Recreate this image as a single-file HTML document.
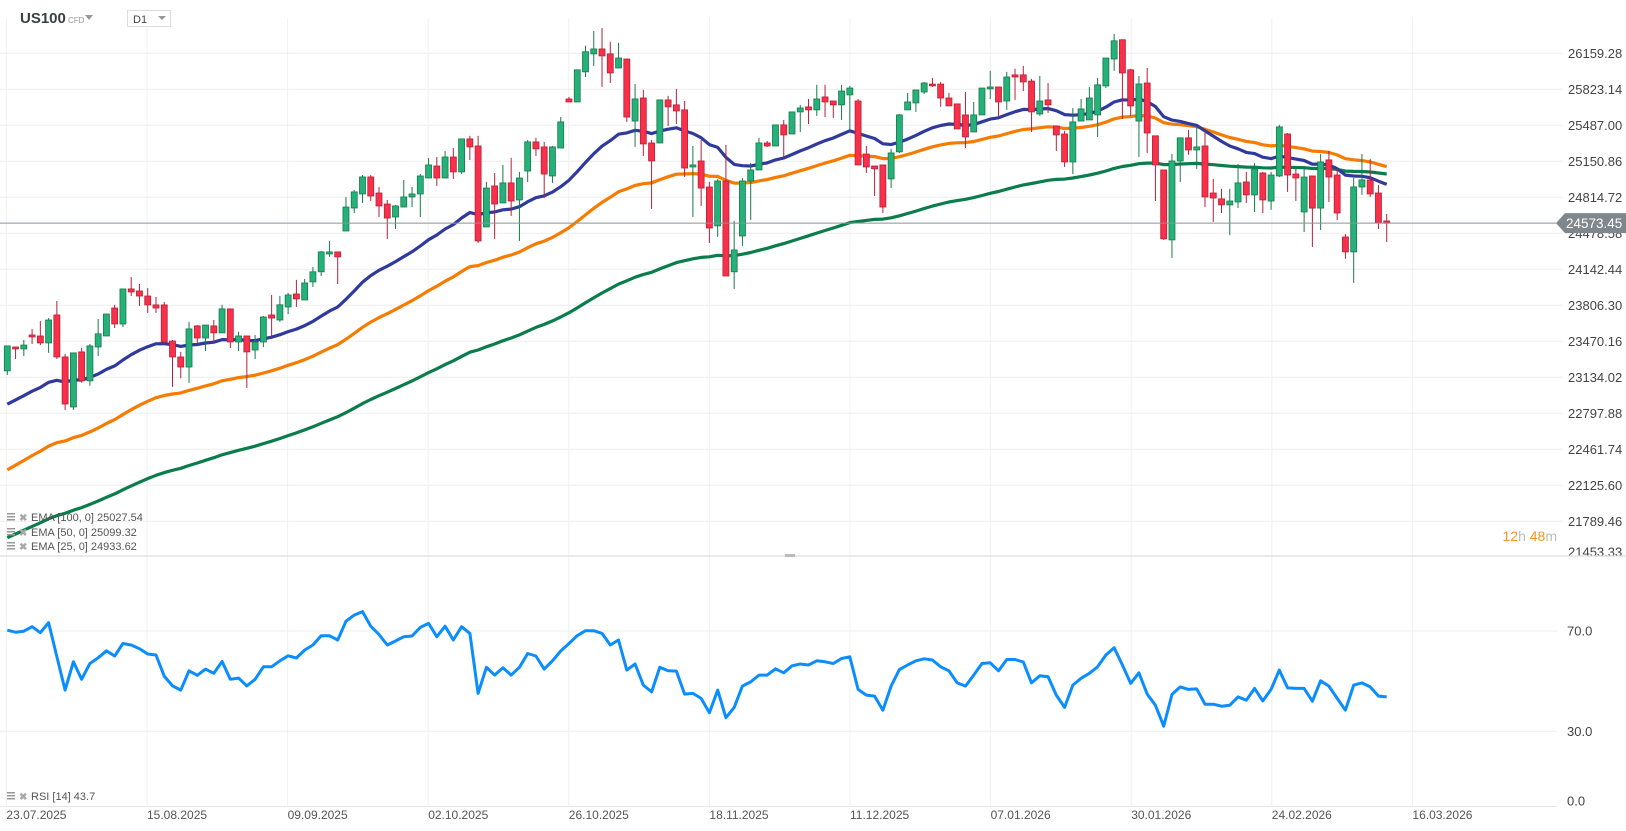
<!DOCTYPE html>
<html><head><meta charset="utf-8"><style>
html,body{margin:0;padding:0;background:#fff;}
svg{display:block;font-family:"Liberation Sans",Arial,sans-serif;}
</style></head><body>
<svg id="chart" width="1626" height="831" viewBox="0 0 1626 831" xmlns="http://www.w3.org/2000/svg">
<rect x="0" y="0" width="1626" height="831" fill="#fff"/>
<g id="grid"></g>
<g id="header">
  <text x="20" y="23" font-size="15" font-weight="bold" fill="#3a3f44">US100</text>
  <text x="68" y="23" font-size="8" fill="#999">CFD</text>
  <path d="M85 15 L93 15 L89 20 Z" fill="#999"/>
  <rect x="127.5" y="10.5" width="43" height="16" fill="#fff" stroke="#ddd"/>
  <text x="133" y="23" font-size="11" fill="#444">D1</text>
  <path d="M158 16 L166 16 L162 20 Z" fill="#999"/>
</g>
<g id="ema"></g>
<g id="candles"></g>
<g id="rsi"></g>
<g id="axes"></g>
<g id="legend">
  <g>
    <rect x="7" y="513" width="8" height="1.5" fill="#999"/><rect x="7" y="516" width="8" height="1.5" fill="#999"/><rect x="7" y="519" width="8" height="1.5" fill="#999"/>
    <text x="19" y="521" font-size="10" fill="#aaa" font-weight="bold">✖</text>
    <text x="31" y="521" font-size="11" fill="#555">EMA [100, 0] 25027.54</text></g>
  <g>
    <rect x="7" y="528" width="8" height="1.5" fill="#999"/><rect x="7" y="531" width="8" height="1.5" fill="#999"/><rect x="7" y="534" width="8" height="1.5" fill="#999"/>
    <text x="19" y="536" font-size="10" fill="#aaa" font-weight="bold">✖</text>
    <text x="31" y="536" font-size="11" fill="#555">EMA [50, 0] 25099.32</text></g>
  <g>
    <rect x="7" y="542" width="8" height="1.5" fill="#999"/><rect x="7" y="545" width="8" height="1.5" fill="#999"/><rect x="7" y="548" width="8" height="1.5" fill="#999"/>
    <text x="19" y="550" font-size="10" fill="#aaa" font-weight="bold">✖</text>
    <text x="31" y="550" font-size="11" fill="#555">EMA [25, 0] 24933.62</text></g>
  <g>
    <rect x="7" y="792" width="8" height="1.5" fill="#999"/><rect x="7" y="795" width="8" height="1.5" fill="#999"/><rect x="7" y="798" width="8" height="1.5" fill="#999"/>
    <text x="19" y="800" font-size="10" fill="#aaa" font-weight="bold">✖</text>
    <text x="31" y="800" font-size="11" fill="#555">RSI [14] 43.7</text></g>
  <text x="1557" y="541" font-size="14" text-anchor="end"><tspan fill="#f7931e">12</tspan><tspan fill="#bbb">h </tspan><tspan fill="#f7931e">48</tspan><tspan fill="#bbb">m</tspan></text>
</g>
</svg>
<script>
const priceTicks = [26159.28,25823.14,25487.00,25150.86,24814.72,24478.58,24142.44,23806.30,23470.16,23134.02,22797.88,22461.74,22125.60,21789.46,21453.33];
const rsiTicks = [70,30,0];
const dateLabels = ["23.07.2025","15.08.2025","09.09.2025","02.10.2025","26.10.2025","18.11.2025","11.12.2025","07.01.2026","30.01.2026","24.02.2026","16.03.2026"];
const lastPrice = 24573.45;
// OHLC per daily candle
const opens = [23194,23417,23399,23529,23520,23455,23716,23324,22857,23371,23101,23417,23520,23781,23632,23959,23940,23893,23810,23810,
23473,23324,23230,23614,23501,23614,23549,23773,23464,23520,23389,23464,23716,23669,23791,23912,23856,24025,24119,24286,
24305,24500,24715,24846,25005,24855,24752,24631,24724,24818,24846,24995,25107,24995,25191,25052,25360,25294,24538,24921,
24762,24949,24790,25060,25332,25285,25014,25275,25733,25705,25986,26154,26200,26154,26022,26106,25527,25742,25322,25322,
25724,25678,25631,25098,25154,24911,24548,24967,24119,24454,24967,25070,25322,25294,25491,25406,25612,25659,25631,25752,
25714,25678,25771,25714,25219,25107,25117,24986,25239,25631,25696,25798,25872,25872,25742,25687,25584,25425,25584,25827,
25845,25714,25958,25958,25900,25593,25724,25481,25406,25145,25527,25537,25584,25855,26106,26286,26005,25527,25882,25389,
25070,24417,25154,25370,25257,25294,24855,24800,24744,24771,24958,24837,25042,24780,25014,25406,25032,24678,25014,24714,
25164,25023,24444,24305,24911,24977,24855,24594];
const highs = [23427,23417,23483,23586,23660,23687,23847,23352,23362,23408,23445,23679,23725,23811,23959,24070,24005,23967,23884,23838,
23482,23371,23652,23622,23622,23669,23811,23773,23559,23520,23529,23707,23903,23894,23922,24044,24053,24166,24315,24408,
24305,24817,24883,25023,25023,24911,24790,24744,24977,24911,25032,25183,25191,25247,25275,25360,25389,25389,24958,25042,
25117,25183,25052,25350,25370,25332,25294,25565,25752,26005,26230,26368,26396,26267,26257,26106,25873,25817,25350,25724,
25762,25827,25714,25294,25350,24958,24986,25304,24594,24995,25136,25370,25341,25491,25537,25612,25678,25733,25865,25865,
25714,25865,25855,25733,25294,25107,25117,25267,25593,25789,25817,25892,25930,25892,25789,25687,25798,25705,25835,25995,
25845,25986,26014,26042,25920,25948,25882,25481,25434,25649,25733,25845,25930,26115,26341,26286,26014,25948,26022,25389,
25070,25219,25370,25444,25472,25434,24986,24893,24893,25126,25052,25136,25052,25052,25491,25415,25080,25080,25014,25219,
25247,25080,24472,24995,25219,25174,24931,24659];
const lows = [23156,23305,23333,23445,23435,23362,23305,22829,22829,23083,23055,23333,23520,23595,23604,23893,23800,23735,23735,23445,
23045,23126,23083,23455,23380,23455,23549,23408,23380,23035,23305,23417,23511,23652,23725,23791,23856,23977,24080,24258,
24005,24500,24668,24762,24780,24631,24426,24519,24724,24724,24631,24995,24921,24995,24986,25032,25163,24388,24538,24426,
24762,24641,24407,24958,25201,24808,24949,25275,25705,25705,25938,26042,25845,25882,26022,25519,25285,25201,24706,25322,
25481,25499,25004,24631,24734,24388,24444,24080,23959,24361,24603,25070,25285,25294,25191,25406,25425,25499,25575,25564,
25555,25537,25425,25117,25042,24827,24668,24901,25229,25631,25612,25779,25845,25659,25668,25453,25275,25425,25584,25733,
25564,25631,25724,25807,25425,25575,25602,25247,25098,25032,25527,25537,25378,25835,25995,25546,25575,25191,25229,24780,
24417,24248,24958,25211,25080,24724,24585,24668,24462,24714,24762,24678,24668,24698,25004,24865,24780,24491,24351,24509,
24771,24603,24240,24015,24837,24818,24519,24397];
const closes = [23427,23399,23435,23511,23455,23669,23324,22885,23362,23101,23427,23540,23725,23632,23959,23931,23893,23810,23781,23464,
23324,23230,23586,23501,23622,23549,23773,23464,23520,23371,23464,23697,23687,23811,23903,23866,24015,24119,24305,24305,
24258,24724,24865,25005,24827,24734,24621,24734,24818,24846,25014,25117,24995,25191,25052,25360,25285,24407,24901,24752,
24949,24780,24995,25332,25267,25032,25285,25519,25705,26005,26174,26200,26135,25976,26115,25564,25733,25313,25154,25724,
25659,25621,25088,25117,24901,24528,24967,24080,24323,24967,25070,25322,25294,25491,25397,25612,25649,25631,25733,25705,
25678,25807,25835,25117,25098,25080,24724,25229,25584,25705,25817,25882,25855,25742,25668,25453,25378,25584,25835,25845,
25705,25938,25938,25892,25612,25714,25678,25397,25145,25519,25640,25742,25865,26115,26276,25976,25668,25873,25415,25117,
24427,25154,25370,25257,25285,24818,24808,24744,24780,24949,24837,25080,24790,25023,25472,25023,24995,25004,24714,25145,
25004,24668,24305,24911,24977,24846,24575,24573];
const rsiValues = [70.3,69.5,69.9,71.7,69.3,73.3,59.7,46.4,57.7,50.7,57.0,59.3,62.1,60.0,65.0,64.4,62.9,60.8,60.4,52.0,
48.1,46.4,54.1,52.3,54.8,53.1,57.8,50.7,51.2,48.1,50.7,55.7,55.7,58.1,60.1,59.2,62.4,64.4,68.1,68.1,
66.4,73.9,76.3,77.7,71.9,68.6,64.4,66.0,67.7,68.0,71.4,73.0,67.7,71.9,66.4,71.7,69.0,45.1,55.5,52.4,
55.3,52.4,55.5,61.0,60.0,54.8,58.1,62.0,65.0,68.1,70.1,70.1,69.0,64.4,66.4,54.4,56.8,48.4,45.7,55.5,
54.1,54.0,44.8,45.1,43.1,37.4,46.4,35.4,39.5,48.0,49.7,52.4,52.4,54.9,53.3,56.1,56.8,56.4,58.1,57.7,
57.0,59.0,59.7,46.7,44.4,44.0,38.4,48.0,54.6,56.4,58.1,58.9,58.4,55.7,54.1,49.3,48.0,52.4,57.0,57.3,
54.1,58.6,58.6,57.6,49.3,52.1,51.7,44.4,39.5,48.4,51.1,53.1,55.7,60.4,63.3,56.4,49.1,53.3,44.8,40.4,
32.0,44.7,47.7,46.7,46.9,40.8,40.8,40.0,40.4,43.7,42.4,47.1,42.1,46.7,54.4,47.3,47.1,47.1,42.0,50.1,
48.0,43.1,38.4,48.4,49.3,47.7,44.0,43.7];
const emaPeriods = [25,50,100];
const emaSeeds = [22838,22222,21600];

const NS="http://www.w3.org/2000/svg";
function el(tag,attrs,parent){const e=document.createElementNS(NS,tag);for(const k in attrs)e.setAttribute(k,attrs[k]);parent.appendChild(e);return e;}
const X0=7.3, DX=8.26;
function xOf(i){return X0+DX*i;}
function yOf(p){return 53.3+(26159.28-p)/336.14*36;}
function yR(v){return 806.5-2.508*v;}

const grid=document.getElementById('grid');
for(let k=0;k<dateLabels.length;k++){
  const gx=6.4+140.6*k;
  const l=el('line',{x1:gx,y1:18,x2:gx,y2:806,stroke:'#f0f0f0','stroke-width':1},grid);
  
  
}
const axes=document.getElementById('axes');
priceTicks.forEach((p,i)=>{
  const y=yOf(p);
  if(i<priceTicks.length-1){
    const l=el('line',{x1:0,y1:y,x2:1563,y2:y,stroke:'#eeeeee','stroke-width':1},grid);
    
    
  }
  const t=el('text',{x:1568,y:(i===priceTicks.length-1?y-1:y+4.5),'font-size':13,fill:'#444'},axes);
  t.textContent=p.toFixed(2);
  
  
});
const dv=el('line',{x1:0,y1:556,x2:1626,y2:556,stroke:'#dddddd','stroke-width':1.2},axes);


const hd=el('rect',{x:785,y:554,width:10,height:3,fill:'#bbb'},axes);


rsiTicks.forEach(v=>{
  const y=yR(v);
  const l=el('line',{x1:0,y1:y,x2:1557,y2:y,stroke:(v===0?'#e6e6e6':'#eeeeee'),'stroke-width':1},grid);
  
  
  const t=el('text',{x:1567,y:(v===0?y-1:y+4.5),'font-size':13,fill:'#444'},axes);
  t.textContent=v.toFixed(1);
  
  
});
dateLabels.forEach((d,k)=>{
  const t=el('text',{x:6.4+140.6*k,y:819,'font-size':12,fill:'#555'},axes);
  t.textContent=d;
  
  
});

const emaG=document.getElementById('ema');
const emaColors=['#2f3a9c','#f57c00','#0b7d4c'];
[2,1,0].forEach(j=>{
  const a=2/(emaPeriods[j]+1);let e=emaSeeds[j];const pts=[];
  for(let i=0;i<closes.length;i++){e=e+a*(closes[i]-e);pts.push(xOf(i).toFixed(1)+','+yOf(e).toFixed(1));}
  const pl=el('polyline',{points:pts.join(' '),fill:'none',stroke:emaColors[j],'stroke-width':3.2,'stroke-linejoin':'round'},emaG);
  
  
});

const cg=document.getElementById('candles');
for(let i=0;i<closes.length;i++){
  const up=closes[i]>=opens[i];
  const body=up?'#26b07a':'#f8304a', edge=up?'#177a4c':'#b5213a';
  const x=xOf(i);
  const g=el('g',{},cg);
  
  
  el('line',{x1:x,y1:yOf(highs[i]),x2:x,y2:yOf(lows[i]),stroke:edge,'stroke-width':1},g);
  const yt=yOf(Math.max(opens[i],closes[i])), yb=yOf(Math.min(opens[i],closes[i]));
  el('rect',{x:x-3,y:yt,width:6,height:Math.max(1,yb-yt),fill:body,stroke:edge,'stroke-width':0.8},g);
}
const ly=yOf(lastPrice);
const pl=el('line',{x1:0,y1:ly,x2:1556,y2:ly,stroke:'#8b9398','stroke-width':1},axes);


const tag=el('path',{d:`M1556 ${ly} L1565 ${ly-10} L1626 ${ly-10} L1626 ${ly+10} L1565 ${ly+10} Z`,fill:'#7f878d'},axes);


const tt=el('text',{x:1566,y:ly+5,'font-size':13.5,fill:'#fff'},axes);
tt.textContent=lastPrice.toFixed(2);



const rg=document.getElementById('rsi');
const rp=rsiValues.map((v,i)=>xOf(i).toFixed(1)+','+yR(v).toFixed(1));
const rl=el('polyline',{points:rp.join(' '),fill:'none',stroke:'#0a8dff','stroke-width':3,'stroke-linejoin':'round'},rg);


</script>
</body></html>
